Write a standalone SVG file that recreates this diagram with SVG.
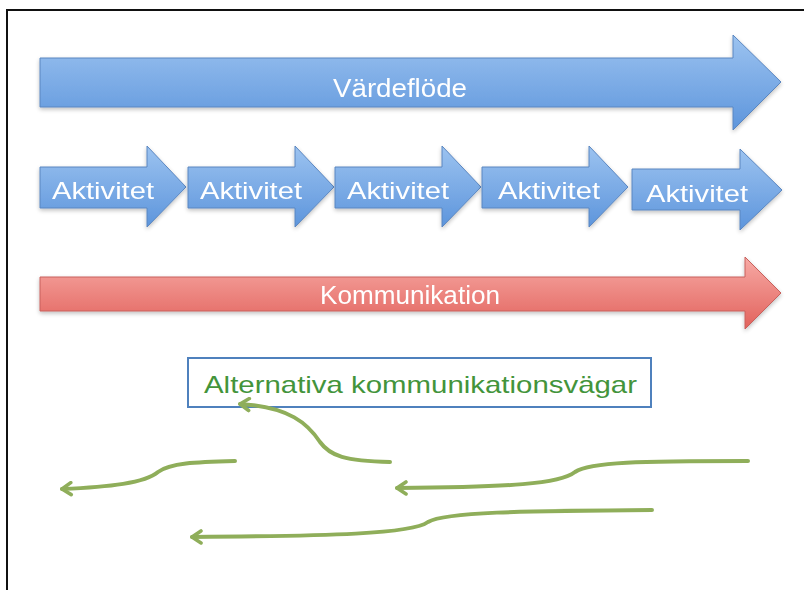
<svg xmlns="http://www.w3.org/2000/svg" width="804" height="590" viewBox="0 0 804 590">
  <defs>
    <linearGradient id="blueFill" x1="0" y1="0" x2="0" y2="1">
      <stop offset="0" stop-color="#9cc3f0"/>
      <stop offset="1" stop-color="#5d95dc"/>
    </linearGradient>
    <linearGradient id="redFill" x1="0" y1="0" x2="0" y2="1">
      <stop offset="0" stop-color="#f7aaa5"/>
      <stop offset="1" stop-color="#e2625c"/>
    </linearGradient>
    <filter id="soft" x="-5%" y="-20%" width="110%" height="140%">
      <feGaussianBlur in="SourceAlpha" stdDeviation="2"/>
      <feOffset dy="2"/>
      <feComponentTransfer><feFuncA type="linear" slope="0.25"/></feComponentTransfer>
      <feMerge><feMergeNode/><feMergeNode in="SourceGraphic"/></feMerge>
    </filter>
    <!-- open chevron head for the green paths -->
    <marker id="chev" viewBox="0 0 16 16" refX="13" refY="8" markerWidth="16" markerHeight="16" markerUnits="userSpaceOnUse" orient="auto">
      <path d="M4,2 L13,8 L4,14" fill="none" stroke="#8fae5a" stroke-width="3.6" stroke-linecap="round" stroke-linejoin="round"/>
    </marker>
  </defs>
  <style>
    .blue { fill: url(#blueFill); stroke: #5a86c0; stroke-width: 1; }
    .red { fill: url(#redFill); stroke: #c8615c; stroke-width: 1; }
    .lbl { font-family: "Liberation Sans", "Open Sans", sans-serif; fill: #ffffff; text-anchor: middle; }
    .path { fill: none; stroke: #8fae5a; stroke-width: 4; stroke-linecap: round; }
  </style>

  <rect width="804" height="590" fill="#ffffff"/>
  <!-- frame -->
  <path d="M7,595 V10 H810" fill="none" stroke="#111111" stroke-width="2"/>

  <g id="vardeflode" filter="url(#soft)">
    <path class="blue" d="M40,58 H733 V35 L781,82 L733,130 V107 H40 Z"/>
    <text class="lbl" x="400" y="97" font-size="25" textLength="134" lengthAdjust="spacingAndGlyphs">Värdeflöde</text>
  </g>

  <g id="aktivitet1" filter="url(#soft)">
    <path class="blue" d="M40,167 H147 V146 L186,187 L147,227 V208 H40 Z"/>
    <text class="lbl" x="103" y="199" font-size="24" textLength="102" lengthAdjust="spacingAndGlyphs">Aktivitet</text>
  </g>
  <g id="aktivitet2" filter="url(#soft)">
    <path class="blue" d="M188,167 H295 V146 L334,187 L295,227 V208 H188 Z"/>
    <text class="lbl" x="251" y="199" font-size="24" textLength="102" lengthAdjust="spacingAndGlyphs">Aktivitet</text>
  </g>
  <g id="aktivitet3" filter="url(#soft)">
    <path class="blue" d="M335,167 H442 V146 L481,187 L442,227 V208 H335 Z"/>
    <text class="lbl" x="398" y="199" font-size="24" textLength="102" lengthAdjust="spacingAndGlyphs">Aktivitet</text>
  </g>
  <g id="aktivitet4" filter="url(#soft)">
    <path class="blue" d="M482,167 H589 V146 L628,187 L589,227 V208 H482 Z"/>
    <text class="lbl" x="549" y="199" font-size="24" textLength="102" lengthAdjust="spacingAndGlyphs">Aktivitet</text>
  </g>
  <g id="aktivitet5" filter="url(#soft)">
    <path class="blue" d="M632,169 H740 V149 L782,190 L740,230 V210 H632 Z"/>
    <text class="lbl" x="697" y="202" font-size="24" textLength="102" lengthAdjust="spacingAndGlyphs">Aktivitet</text>
  </g>

  <g id="kommunikation" filter="url(#soft)">
    <path class="red" d="M40,277 H745 V257 L781,293 L745,329 V311 H40 Z"/>
    <text class="lbl" x="410" y="304" font-size="25" textLength="180" lengthAdjust="spacingAndGlyphs">Kommunikation</text>
  </g>

  <g id="alternativa">
    <rect x="188" y="358" width="463" height="49" fill="#ffffff" stroke="#4f81bd" stroke-width="2"/>
    <text x="204" y="393" font-family="Liberation Sans, Open Sans, sans-serif" font-size="24" fill="#43943b" textLength="433" lengthAdjust="spacingAndGlyphs">Alternativa kommunikationsvägar</text>
  </g>

  <g id="connectors">
    <path class="path" marker-end="url(#chev)" d="M390,462 C345,461 330,456 320,442 C308,424 290,407 240,404"/>
    <path class="path" marker-end="url(#chev)" d="M235,461 C195,462 170,463 158,472 C145,483 110,487 62,489"/>
    <path class="path" marker-end="url(#chev)" d="M748,461 C640,461 590,462 575,472 C560,484 510,487 397,488"/>
    <path class="path" marker-end="url(#chev)" d="M652,510 C520,511 445,512 428,522 C412,534 330,536 192,537"/>
  </g>
</svg>
